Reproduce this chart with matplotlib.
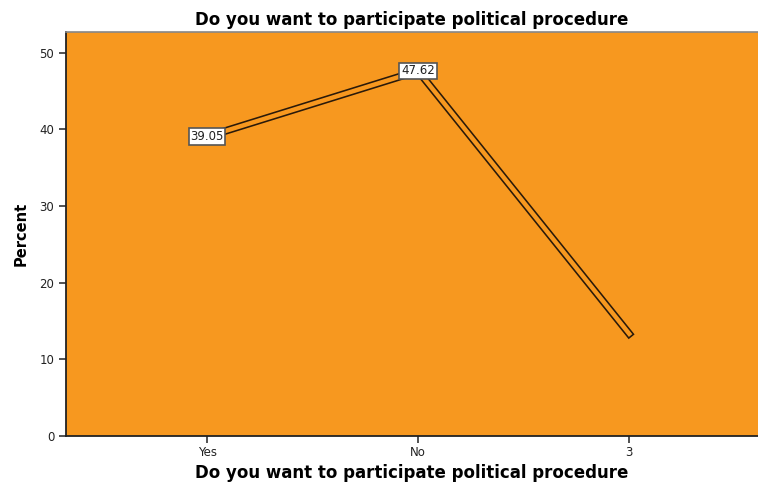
import numpy as np
import matplotlib.pyplot as plt

categories = ["Yes", "No", "3"]
percent = [39.05, 47.62, 13.33]
labeled = [True, True, False]

fig = plt.figure(figsize=(7.58, 4.82), dpi=100)
ax = fig.add_axes([0.0871, 0.0954, 0.9129, 0.8382])
ax.set_facecolor("#F7981F")

x = np.arange(len(categories))
# double-line look: dark outer stroke with orange core
ax.plot(x, percent, color="#2a1a0a", lw=5.5, solid_capstyle="projecting",
        solid_joinstyle="miter", zorder=3)
ax.plot(x, percent, color="#F7981F", lw=3.2, solid_capstyle="projecting",
        solid_joinstyle="miter", zorder=4)

for xi, v, show in zip(x, percent, labeled):
    if show:
        ax.text(xi, v, f"{v:.2f}", ha="center", va="center", fontsize=8.5,
                color="#222222", zorder=5,
                bbox=dict(boxstyle="square,pad=0.15", fc="white",
                          ec="#555555", lw=1.2))

ax.set_xlim(-0.668, 2.61)
ax.set_ylim(0, 52.7)
ax.set_xticks(x)
ax.set_xticklabels(categories)
ax.set_yticks([0, 10, 20, 30, 40, 50])
ax.tick_params(axis="both", direction="out", length=5, width=1.2,
               labelsize=8.5, colors="#333333", labelcolor="#222222")
ax.tick_params(axis="x", pad=2)

for side in ["left", "bottom"]:
    ax.spines[side].set_color("#222222")
    ax.spines[side].set_linewidth(1.3)
ax.spines["top"].set_color("#888888")
ax.spines["top"].set_linewidth(1.2)
ax.spines["right"].set_visible(False)

ax.set_title("Do you want to participate political procedure",
             fontsize=12, fontweight="bold", pad=5)
ax.set_xlabel("Do you want to participate political procedure",
              fontsize=12, fontweight="bold", labelpad=4)
ax.set_ylabel("Percent", fontsize=10.5, fontweight="bold", labelpad=8)

fig.savefig("out.png", dpi=100)
